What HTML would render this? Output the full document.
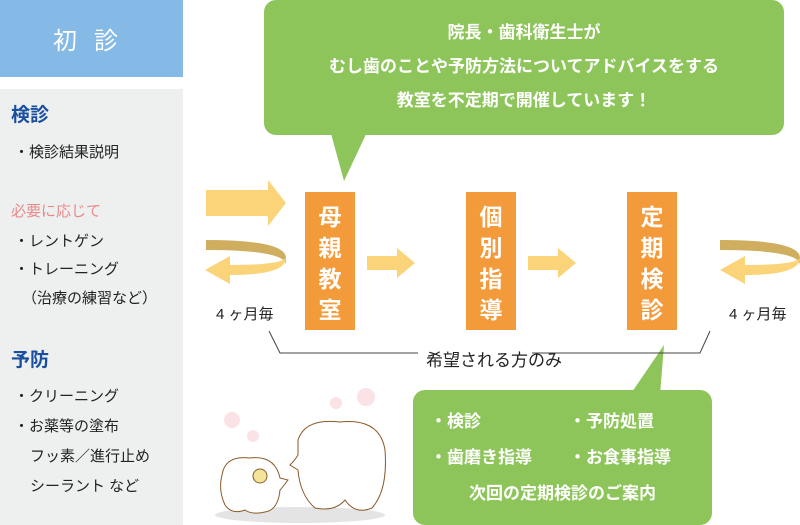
<!DOCTYPE html>
<html><head><meta charset="utf-8"><style>
body{margin:0;width:800px;height:525px;position:relative;overflow:hidden;background:#fff;font-family:"Liberation Sans","Noto Sans CJK JP",sans-serif;}
.a{position:absolute;white-space:nowrap}
.l{font-size:15px;color:#222}
.box{position:absolute;background:#f39a3a;width:50px;height:138px;top:192px;color:#fff;font-size:23px;font-weight:bold;text-align:center;line-height:31px;padding-top:10px;box-sizing:border-box}
.w{color:#fff;font-weight:bold;font-size:17px}
</style></head><body>
<div class="a" style="left:0;top:0;width:183px;height:77px;background:#85b9e6"></div>
<div class="a" style="left:53px;top:21px;font-size:24px;color:#fff;letter-spacing:17px">初診</div>
<div class="a" style="left:0;top:89px;width:183px;height:436px;background:#eef0f0"></div>
<div class="a" style="left:11px;top:100px;font-size:19px;font-weight:bold;color:#1a4fa0">検診</div>
<div class="a l" style="left:14px;top:141px">・検診結果説明</div>
<div class="a" style="left:11px;top:200px;font-size:15px;color:#e98a88">必要に応じて</div>
<div class="a l" style="left:14px;top:230px">・レントゲン</div>
<div class="a l" style="left:14px;top:258px">・トレーニング</div>
<div class="a l" style="left:22px;top:287px">（治療の練習など）</div>
<div class="a" style="left:11px;top:345px;font-size:19px;font-weight:bold;color:#1a4fa0">予防</div>
<div class="a l" style="left:14px;top:385px">・クリーニング</div>
<div class="a l" style="left:14px;top:415px">・お薬等の塗布</div>
<div class="a l" style="left:30px;top:445px">フッ素／進行止め</div>
<div class="a l" style="left:30px;top:475px">シーラント など</div>

<svg class="a" style="left:0;top:0" width="800" height="525">
<rect x="264" y="0" width="520" height="135" rx="12" fill="#8dc55a"/>
<polygon points="330,130 368,130 344,181" fill="#8dc55a"/>
<rect x="413" y="390" width="299" height="135" rx="12" fill="#8dc55a"/>
<polygon points="630,395 660,395 664,345" fill="#8dc55a"/>
<polygon points="206,190 268,190 268,180 286,203 268,226 268,216 206,216" fill="#fbd47a"/>
<path d="M206,240 Q286,240 286,258 L286,265 Q286,250 206,250 Z" fill="#cfae5f"/>
<path d="M286,258 Q286,275 230,275 L230,284 L205,270 L230,256 L230,265 Q280,265 286,258Z" fill="#fbd47a"/>
<polygon points="367,256 397,256 397,248 415,263 397,278 397,270 367,270" fill="#fbd47a"/>
<polygon points="528,256 558,256 558,248 576,263 558,278 558,270 528,270" fill="#fbd47a"/>
<path d="M720,240 Q800,240 800,258 L800,265 Q800,250 720,250 Z" fill="#cfae5f"/>
<path d="M800,258 Q800,275 745,275 L745,284 L720,270 L745,256 L745,265 Q795,265 800,258Z" fill="#fbd47a"/>
<polyline points="269,331 280,353 418,353" fill="none" stroke="#444" stroke-width="1"/>
<polyline points="532,353 700,353 710,331" fill="none" stroke="#444" stroke-width="1"/>
<ellipse cx="300" cy="515" rx="85" ry="8" fill="#e4e4e4"/>
<path d="M298,440 Q305,418 340,422 Q380,418 385,450 Q388,490 372,508 Q355,515 345,500 Q335,512 315,508 Q300,495 298,470 L290,465 Q295,460 298,455Z" fill="#fff" stroke="#8a5a2a" stroke-width="1"/>
<path d="M222,475 Q225,455 250,458 Q275,455 280,478 L288,480 Q282,488 280,490 Q278,510 265,512 Q252,515 245,510 Q232,515 225,505 Q218,490 222,475Z" fill="#fff" stroke="#8a5a2a" stroke-width="1"/>
<circle cx="260" cy="476" r="7" fill="#f2e59a" stroke="#8a5a2a"/>
<circle cx="232" cy="420" r="8" fill="#fbe2e6"/><circle cx="253" cy="436" r="6" fill="#fbe2e6"/>
<circle cx="336" cy="403" r="6" fill="#fbe2e6"/><circle cx="366" cy="397" r="9" fill="#fbe2e6"/>
</svg>
<div class="a w" style="left:264px;top:16px;width:520px;text-align:center;line-height:34px">院長・歯科衛生士が<br>むし歯のことや予防方法についてアドバイスをする<br>教室を不定期で開催しています！</div>
<div class="box" style="left:305px">母<br>親<br>教<br>室</div>
<div class="box" style="left:466px">個<br>別<br>指<br>導</div>
<div class="box" style="left:627px">定<br>期<br>検<br>診</div>
<div class="a" style="left:216px;top:303px;font-size:15px;color:#222">4 ヶ月毎</div>
<div class="a" style="left:729px;top:303px;font-size:15px;color:#222">4 ヶ月毎</div>
<div class="a" style="left:426px;top:346px;font-size:17px;color:#222">希望される方のみ</div>
<div class="a w" style="left:430px;top:404px;line-height:36px">・検診<br>・歯磨き指導</div>
<div class="a w" style="left:569px;top:404px;line-height:36px">・予防処置<br>・お食事指導</div>
<div class="a w" style="left:413px;top:479px;width:299px;text-align:center">次回の定期検診のご案内</div>
</body></html>
